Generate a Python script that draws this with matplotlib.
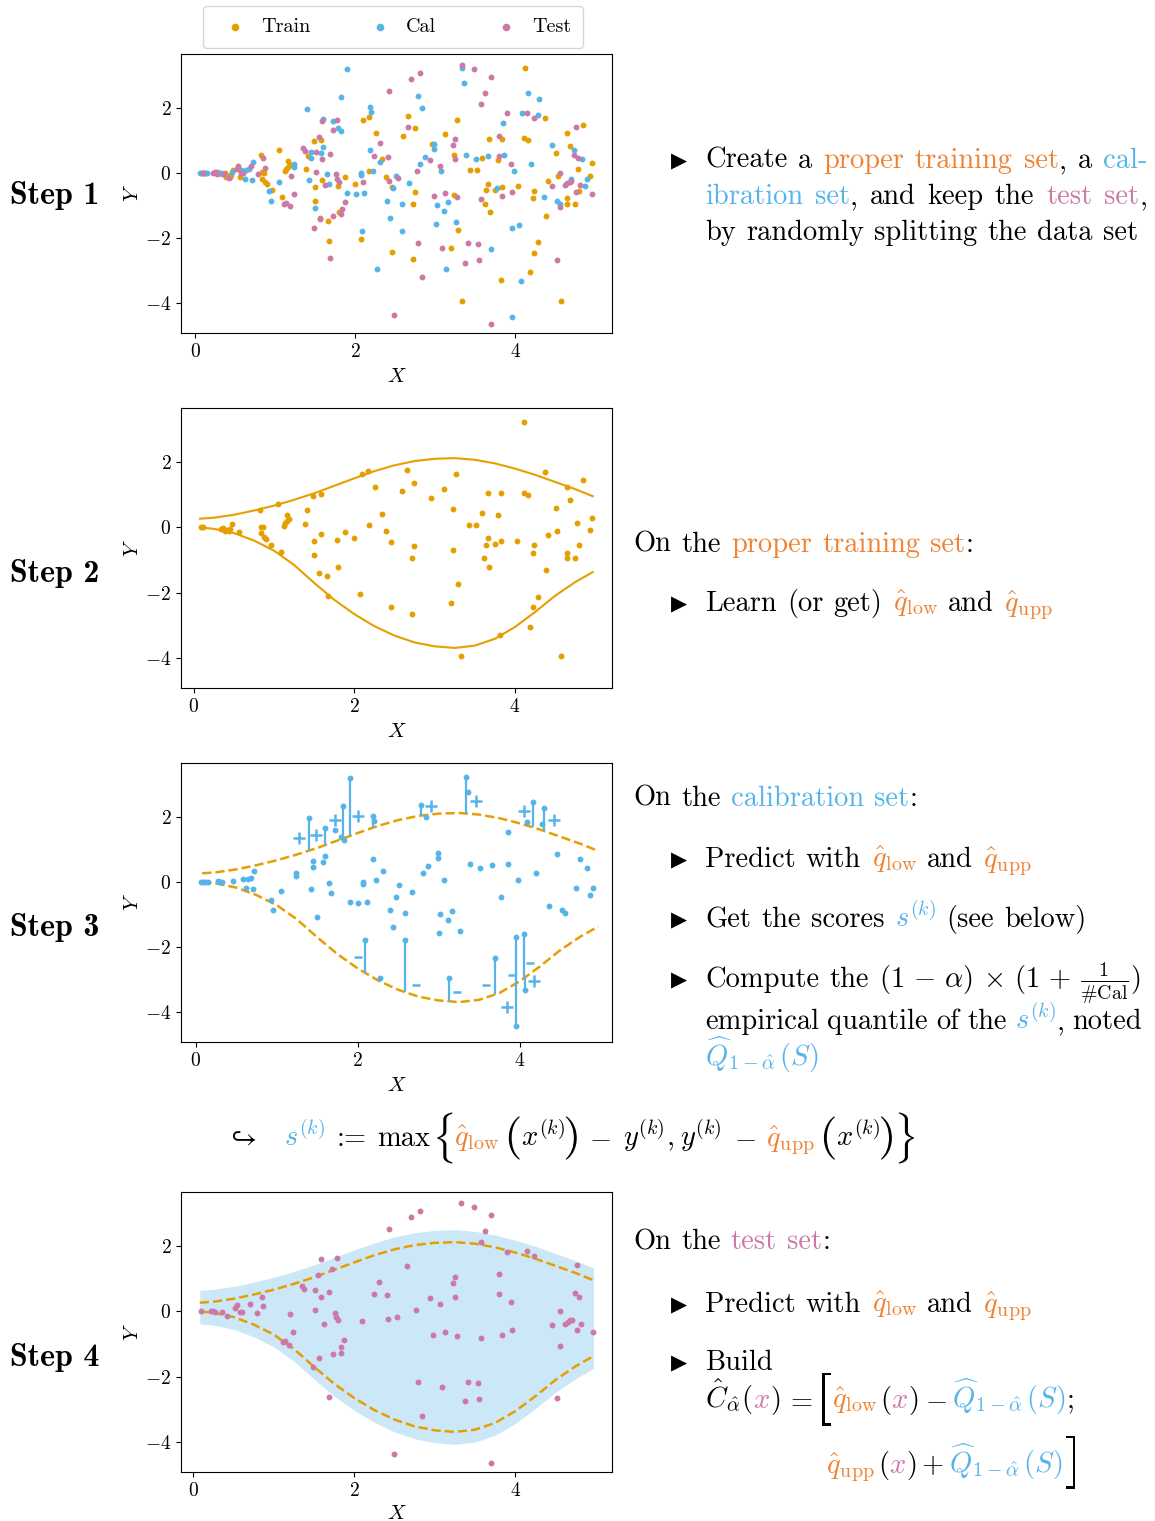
import numpy as np
import matplotlib
matplotlib.use("Agg")
import matplotlib.pyplot as plt
from matplotlib.transforms import IdentityTransform, Affine2D
from matplotlib.mathtext import MathTextParser
from matplotlib.textpath import TextPath
from matplotlib.patches import PathPatch

plt.rcParams["mathtext.fontset"] = "cm"
plt.rcParams["font.family"] = "cmr10"
plt.rcParams["axes.formatter.use_mathtext"] = True

C_TRAIN = "#E69F00"
C_CAL = "#56B4E9"
C_TEST = "#CC79A7"
C_TXT = "#F08232"
K = "black"

# quantile regressors
curve_x = [0.08, 0.25, 0.5, 0.75, 1.0, 1.25, 1.5, 1.75, 2.0, 2.25, 2.5,
           2.75, 3.0, 3.25, 3.5, 3.75, 4.0, 4.25, 4.5, 4.75, 4.97]
q_upp = [0.27, 0.30, 0.39, 0.52, 0.67, 0.85, 1.05, 1.28, 1.51, 1.73, 1.91,
         2.04, 2.11, 2.13, 2.08, 1.97, 1.81, 1.62, 1.40, 1.18, 0.96]
q_low = [0.0, -0.04, -0.17, -0.40, -0.71, -1.15, -1.70, -2.22, -2.66, -3.03, -3.32,
         -3.53, -3.65, -3.70, -3.63, -3.42, -3.06, -2.60, -2.10, -1.68, -1.37]
q_hat = 0.38

train = [(0.09, 0.0), (0.12, 0.0), (0.34, -0.04), (0.37, -0.01), (0.39, -0.12), (0.42, -0.08),
         (0.44, -0.12), (0.45, -0.06), (0.48, 0.10), (0.56, -0.13), (0.82, 0.55), (0.84, 0.03),
         (0.86, 0.0), (0.84, -0.17), (0.87, -0.28), (0.90, -0.35), (0.96, -0.53), (1.05, 0.71),
         (1.09, -0.75), (1.12, 0.06), (1.14, 0.14), (1.16, 0.19), (1.19, 0.26), (1.16, 0.38),
         (1.39, 0.12), (1.41, 0.54), (1.49, 0.98), (1.58, 1.03), (1.50, -0.42), (1.50, -0.85),
         (1.59, -0.21), (1.56, -1.39), (1.66, -1.49), (1.79, -0.39), (1.80, -1.21), (1.88, -0.13),
         (1.67, -2.09), (2.00, -0.33), (2.07, -2.03), (2.10, 1.65), (2.17, 1.74), (2.26, 1.23),
         (2.18, 0.07), (2.34, 0.42), (2.39, -0.11), (2.46, -0.44), (2.46, -2.44),
         (4.12, 3.23), (2.66, 1.77), (2.75, 1.38), (2.60, 1.13), (2.96, 0.91), (3.12, 1.19),
         (3.27, 1.63), (3.23, 0.57), (4.37, 1.71), (4.85, 1.47), (4.65, 1.23), (4.69, 0.83),
         (4.51, 0.61), (3.67, 1.06), (3.83, 1.05), (4.11, 1.07), (4.16, 1.01), (3.59, 0.46),
         (3.79, 0.39), (3.43, 0.09), (3.52, 0.09), (4.96, 0.30), (4.78, 0.14), (4.93, -0.09),
         (4.53, -0.10), (4.41, -0.24), (2.75, -0.58), (2.72, -0.94), (3.23, -0.69), (3.66, -0.33),
         (3.64, -0.53), (3.75, -0.51), (3.83, -0.42), (4.03, -0.40), (4.24, -0.55), (4.22, -0.78),
         (3.62, -0.95), (3.68, -1.21), (4.65, -0.77), (4.65, -0.95), (4.75, -0.95), (4.80, -0.55),
         (4.39, -1.31), (3.29, -1.75), (3.20, -2.31), (2.72, -2.65), (4.29, -2.13), (4.23, -2.45),
         (4.19, -3.05), (3.82, -3.29), (3.33, -3.95), (4.57, -3.94)]

cal = [(0.06, 0.0), (0.09, 0.0), (0.12, 0.0), (0.15, 0.0), (0.27, 0.04), (0.30, 0.0),
       (0.33, -0.01), (0.46, 0.03), (0.58, 0.10), (0.64, 0.10), (0.68, 0.13), (0.72, 0.33),
       (0.62, -0.17), (0.71, -0.21), (0.93, -0.54), (0.95, -0.86), (1.05, -0.28), (1.24, 0.29),
       (1.24, 0.18), (1.40, 1.98), (1.45, 0.65), (1.45, 0.46), (1.43, -0.21), (1.50, -1.07),
       (1.57, 0.61), (1.60, 0.79), (1.60, 1.67), (1.65, -0.03), (1.67, -0.34), (1.72, 1.59),
       (1.79, 1.38), (1.83, 1.29), (1.82, 2.33), (1.90, 3.21), (1.90, -0.62), (2.01, -0.64),
       (2.11, -0.61), (2.07, 0.01), (2.07, -0.07), (2.19, 0.70), (2.23, 0.05), (2.31, 0.33),
       (2.19, 2.04), (2.20, 1.88), (2.09, -1.78), (2.27, -2.95), (2.40, -0.87), (2.44, -1.37),
       (2.47, -0.46), (2.51, -0.10), (2.67, -0.31), (2.58, -0.95), (2.59, -1.79), (2.78, 2.39),
       (2.84, 2.00), (2.81, 0.28), (2.87, 0.48), (2.99, 0.91), (2.99, 0.74), (3.07, 0.05),
       (3.02, -0.98), (3.11, -1.18), (3.16, -0.88), (3.01, -1.57), (3.26, -1.51), (3.13, -2.95),
       (3.34, 3.24), (3.36, 2.78), (3.39, 0.57), (3.51, 0.43), (3.66, 0.52), (3.77, -0.45),
       (3.86, 0.55), (3.85, 1.53), (3.98, 0.05), (3.70, -2.34), (4.09, 1.85), (4.16, 2.48),
       (4.28, 1.78), (4.30, 2.29), (4.20, 0.27), (4.46, 0.85), (4.36, -0.74), (4.52, -0.86),
       (4.56, -0.96), (4.74, 0.72), (4.83, 0.42), (4.70, -0.19), (4.90, -0.17), (4.87, -0.39),
       (3.96, -1.70), (3.96, -4.45), (4.05, -1.61), (4.07, -3.32)]

test = [(0.10, 0.0), (0.22, 0.01), (0.25, 0.03), (0.27, -0.03), (0.36, -0.03), (0.42, -0.15),
        (0.52, 0.11), (0.54, 0.21), (0.58, -0.01), (0.60, -0.01), (0.70, 0.23), (0.79, -0.04),
        (0.85, 0.46), (0.87, 0.16), (1.20, -0.09), (1.24, -0.63), (1.11, -0.94), (1.14, -0.92),
        (1.19, -1.03), (1.35, 0.78), (1.37, 0.69), (1.51, 0.65), (1.51, 0.04), (1.55, 1.12),
        (1.59, 0.44), (1.59, 1.61), (1.69, 0.59), (1.72, 1.32), (1.78, 1.63), (1.62, -0.37),
        (1.76, -0.04), (1.77, -0.18), (1.80, -0.27), (1.87, -0.89), (1.84, -1.10), (1.83, -1.27),
        (1.73, -1.31), (1.56, -1.43), (1.49, -1.70), (1.69, -2.63), (2.10, -0.29), (2.24, 0.53),
        (2.31, 0.92), (2.41, 0.51), (2.42, -0.23), (2.53, -0.16), (2.43, 2.53), (2.49, -4.37),
        (2.70, 2.89), (2.81, 3.09), (2.66, 1.41), (2.77, 0.05), (2.94, 0.41), (3.06, 0.23),
        (3.22, 0.88), (3.25, 1.06), (3.25, 0.43), (2.98, -0.72), (3.12, -0.62), (3.27, -0.74),
        (3.33, 3.34), (3.48, 3.21), (3.70, 2.95), (3.62, 2.48), (3.57, 2.13), (3.90, 1.84),
        (4.15, 1.85), (4.23, 1.69), (4.76, 1.43), (3.80, 1.15), (3.80, 0.54), (3.95, 0.28),
        (3.57, -0.80), (3.83, -0.72), (3.96, -0.57), (4.56, 0.00), (4.46, -0.40), (4.62, -0.37),
        (4.65, -0.31), (4.68, -0.27), (4.70, -0.25), (4.74, 0.57), (4.79, 0.46), (4.81, -0.37),
        (4.76, -0.57), (4.96, -0.63), (4.56, -1.06), (2.79, -2.16), (3.09, -2.32), (3.41, -2.16),
        (3.54, -2.19), (3.37, -2.76), (3.55, -2.68), (2.84, -3.21), (4.52, -2.67), (3.70, -4.66)]

# calibration points whose score is drawn
scored = [(1.40, 1.98), (1.60, 1.67), (1.82, 2.33), (1.90, 3.21), (2.19, 2.04), (2.78, 2.39),
          (3.34, 3.24), (4.16, 2.48), (4.30, 2.29), (2.09, -1.78), (2.59, -1.79), (3.13, -2.95),
          (3.70, -2.34), (3.96, -1.70), (4.05, -1.61), (3.96, -4.45), (4.07, -3.32)]
# sign labels next to the score segments
signs = [(1.27, 1.37, "+"), (1.49, 1.44, "+"), (1.72, 1.91, "+"), (2.00, 2.03, "+"),
         (2.91, 2.34, "+"), (3.46, 2.49, "+"), (4.05, 2.19, "+"), (4.43, 1.91, "+"),
         (3.84, -3.84, "+"), (4.18, -3.05, "+"), (2.01, -2.32, "-"), (2.72, -3.16, "-"),
         (3.23, -3.39, "-"), (3.58, -3.17, "-"), (3.90, -2.88, "-"), (4.13, -2.48, "-")]

W, H = 1155, 1521
fig = plt.figure(figsize=(W / 100, H / 100), dpi=100)
ID = IdentityTransform()
S = 18


def make_ax(top, bottom, xlim, xpad=5.5):
    ax = fig.add_axes([181 / W, 1 - bottom / H, 431 / W, (bottom - top) / H])
    ax.set_xlim(*xlim)
    ax.set_ylim(-4.93, 3.67)
    ax.set_xticks([0, 2, 4])
    ax.set_yticks([-4, -2, 0, 2])
    ax.tick_params(labelsize=14)
    ax.set_xlabel("$X$", fontsize=15, labelpad=xpad)
    ax.set_ylabel("$Y$", fontsize=15, labelpad=2)
    return ax


def xy(pts):
    return [p[0] for p in pts], [p[1] for p in pts]


# step 1
ax1 = make_ax(54, 333, (-0.175, 5.21))
for pts, c, lab in [(train, C_TRAIN, "Train"), (cal, C_CAL, "Cal"), (test, C_TEST, "Test")]:
    x, y = xy(pts)
    ax1.scatter(x, y, s=S, color=c, lw=0, label=lab)
ax1.legend(loc="lower center", bbox_to_anchor=(0.492, 1.0), ncol=3, fontsize=14.5,
           edgecolor="#cccccc", handlelength=2.0, handletextpad=0.3, columnspacing=2.45,
           borderpad=0.6, borderaxespad=0.3, scatterpoints=1, markerscale=1.3)

# step 2
ax2 = make_ax(408, 688, (-0.158, 5.21))
ax2.plot(curve_x, q_upp, color=C_TRAIN, lw=1.5)
ax2.plot(curve_x, q_low, color=C_TRAIN, lw=1.5)
x, y = xy(train)
ax2.scatter(x, y, s=S, color=C_TRAIN, lw=0, zorder=3)

# step 3
ax3 = make_ax(763, 1042, (-0.181, 5.14))
ax3.plot(curve_x, q_upp, color=C_TRAIN, lw=1.8, ls="--")
ax3.plot(curve_x, q_low, color=C_TRAIN, lw=1.8, ls="--")
sx, sy = np.array(xy(scored))
lo = np.interp(sx, curve_x, q_low)
up = np.interp(sx, curve_x, q_upp)
target = np.where(lo - sy > sy - up, lo, up)
ax3.vlines(sx, sy, target, color=C_CAL, lw=1.6, zorder=2.5)
x, y = xy(cal)
ax3.scatter(x, y, s=S, color=C_CAL, lw=0, zorder=3)
for mx, my, sg in signs:
    ax3.plot(mx, my, marker="+" if sg == "+" else "_", ms=8 if sg == "+" else 6,
             mew=1.8, color=C_CAL, zorder=3)

# step 4
ax4 = make_ax(1192, 1472, (-0.153, 5.20), xpad=3.5)
ax4.fill_between(curve_x, np.array(q_low) - q_hat, np.array(q_upp) + q_hat,
                 color=C_CAL, alpha=0.3, lw=0)
ax4.plot(curve_x, q_upp, color=C_TRAIN, lw=1.8, ls="--")
ax4.plot(curve_x, q_low, color=C_TRAIN, lw=1.8, ls="--")
x, y = xy(test)
ax4.scatter(x, y, s=S, color=C_TEST, lw=0, zorder=3)

# ---- text ----
FS = 20.5
R = fig.canvas.get_renderer()


def put(x, y, parts, right=None, size=FS):
    # parts: (text, colour[, fixed gap in px before it]); a leading space means a word space
    items = []
    for part in parts:
        s, c = part[0], part[1]
        first = True
        for i, w in enumerate(s.split(" ")):
            if not w:
                continue
            if first and len(part) > 2:
                g = float(part[2])
            elif i > 0:
                g = "sp"
            else:
                g = 0.0
            first = False
            items.append((w, c, g))
    if items[0][2] == "sp":
        items[0] = (items[0][0], items[0][1], 0.0)
    texts = [fig.text(0, 0, w, color=c, fontsize=size, va="baseline", ha="left",
                      transform=ID) for w, c, g in items]
    widths = [t.get_window_extent(R).width for t in texts]
    n = sum(1 for it in items if it[2] == "sp")
    fixed = sum(it[2] for it in items if it[2] != "sp")
    sp = 0.36 * size * 100 / 72
    if right is not None and n:
        sp = (right - x - sum(widths) - fixed) / n
    cx = x
    for t, wd, it in zip(texts, widths, items):
        cx += sp if it[2] == "sp" else it[2]
        t.set_position((cx, H - y))
        cx += wd
    return cx


def delim(x, yc, s, h, w):
    # stretched delimiter glyph, h x w pixels, centred on yc
    tp = TextPath((0, 0), s, size=FS * 100 / 72)
    e = tp.get_extents()
    tr = (Affine2D().translate(-e.x0, -(e.y0 + e.y1) / 2)
          .scale(w / e.width, h / e.height).translate(x, H - yc))
    fig.add_artist(PathPatch(tr.transform_path(tp), facecolor=K, lw=0, transform=ID))
    return x + w


def tri(y):
    fig.text(671, H - y + 7, "\u25B6", family="DejaVu Sans", fontsize=15, va="center",
             ha="left", color=K, transform=ID)


try:
    MathTextParser("agg").parse(r"$\#$", dpi=100)
    HASH = r"\#"
except Exception:
    HASH = r"\sharp"

QL = r"$\hat{q}_{\mathrm{low}}$"
QU = r"$\hat{q}_{\mathrm{upp}}$"
QH = r"$\widehat{Q}_{1-\hat{\alpha}}\,(S)$"

for yy, lab in [(196, "Step 1"), (574, "Step 2"), (928, "Step 3"), (1358, "Step 4")]:
    fig.text(10, H - yy, lab, family="cmb10", fontsize=23, va="center", ha="left",
             transform=ID)

# step 1 text
tri(168)
put(705, 168, [("Create a", K), (" proper training set", C_TXT), (",", K), (" a", K),
               (" cal-", C_CAL)], right=1147)
put(705, 204, [("ibration set", C_CAL), (",", K), (" and keep the", K), (" test set", C_TEST),
               (",", K)], right=1147)
put(705, 240, [("by randomly splitting the data set", K)])

# step 2 text
put(633, 552, [("On the", K), (" proper training set", C_TXT), (":", K)])
tri(611)
put(705, 611, [("Learn (or get)", K), (" " + QL, C_TXT), (" and", K), (" " + QU, C_TXT)])

# step 3 text
put(633, 806, [("On the", K), (" calibration set", C_CAL), (":", K)])
tri(867)
put(705, 867, [("Predict with", K), (" " + QL, C_TXT), (" and", K), (" " + QU, C_TXT)])
tri(927)
put(705, 927, [("Get the scores", K), (r" $s^{(k)}$", C_CAL), (" (see below)", K)])
tri(987)
put(705, 987, [("Compute the", K),
               (r" $(1\,-\,\alpha)\,\times\,(1\,+\,\frac{1}{" + HASH + r"\mathrm{Cal}})$", K)])
put(705, 1029, [("empirical quantile of the", K), (r" $s^{(k)}$", C_CAL), (",", K),
                (" noted", K)], right=1142)
put(705, 1066, [(QH, C_CAL)])

# score definition
FY, FC = 1146, 1138
put(226, FY, [(r"$\hookrightarrow$", K)])
cx = put(284, FY, [(r"$s^{(k)}$", C_CAL), (":= max", K, 12)])
cx = delim(cx + 7, FC, r"$\{$", 51, 15)
cx = put(cx + 2, FY, [(QL, C_TXT)])
cx = delim(cx + 9, FC, r"$($", 43, 11)
cx = put(cx + 1, FY, [(r"$x^{(k)}$", K)])
cx = delim(cx + 1, FC, r"$)$", 43, 11)
cx = put(cx, FY, [(r"$-$", K, 12), (r"$y^{(k)},$", K, 12), (r"$y^{(k)}$", K, 6),
                  (r"$-$", K, 12), (QU, C_TXT, 11)])
cx = delim(cx + 9, FC, r"$($", 43, 11)
cx = put(cx + 1, FY, [(r"$x^{(k)}$", K)])
cx = delim(cx + 1, FC, r"$)$", 43, 11)
delim(cx + 7, FC, r"$\}$", 51, 15)

# step 4 text
put(633, 1249, [("On the", K), (" test set", C_TEST), (":", K)])
tri(1312)
put(705, 1312, [("Predict with", K), (" " + QL, C_TXT), (" and", K), (" " + QU, C_TXT)])
tri(1370)
put(705, 1370, [("Build", K)])
cx = put(705, 1408, [(r"$\hat{C}_{\hat{\alpha}}($", K), (r"$x$", C_TEST), (r"$)$", K),
                     (r"$=$", K, 6)])
cx = delim(cx + 9, 1399, r"$[$", 53, 9)
put(cx + 1, 1408, [(QL, C_TXT), (r"$($", K, 2), (r"$x$", C_TEST), (r"$)$", K),
                   (r"$-$", K, 7), (QH, C_CAL, 5), (r"$;$", K)])
cx = put(826, 1473, [(QU, C_TXT), (r"$($", K, 3), (r"$x$", C_TEST), (r"$)$", K),
                     (r"$+$", K, 5), (QH, C_CAL, 5)])
delim(cx + 4, 1462, r"$]$", 53, 9)

fig.savefig("out.png", dpi=100)
